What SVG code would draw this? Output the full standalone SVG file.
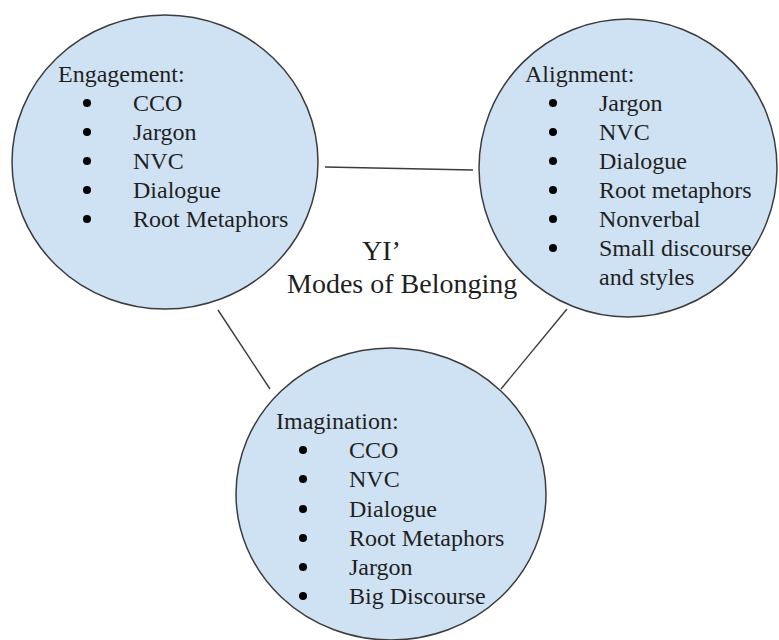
<svg xmlns="http://www.w3.org/2000/svg" width="779" height="640" viewBox="0 0 779 640">
<style>
.node{fill:#cfe2f3;stroke:#3c3c3c;stroke-width:1.5}
.edge{stroke:#3c3c3c;stroke-width:1.4;fill:none}
.t{font-family:"Liberation Serif","Times New Roman",serif;font-size:24px;fill:#1f1f1f}
.c{font-family:"Liberation Serif","Times New Roman",serif;font-size:28px;fill:#1f1f1f}
.b{fill:#000}
</style>
<rect width="779" height="640" fill="#fff"/>
<g id="connectors">
<line class="edge" x1="325" y1="167" x2="473" y2="170"/>
<line class="edge" x1="218" y1="310" x2="270" y2="389"/>
<line class="edge" x1="567" y1="309" x2="501" y2="389"/>
</g>
<g id="engagement">
<ellipse class="node" cx="165" cy="162" rx="153" ry="147"/>
<text class="t" x="58" y="82">Engagement:</text>
<g class="b"><circle cx="87" cy="103" r="4"/><circle cx="87" cy="132" r="4"/><circle cx="87" cy="161" r="4"/><circle cx="87" cy="190" r="4"/><circle cx="87" cy="219" r="4"/></g>
<text class="t" x="133" y="111">CCO</text>
<text class="t" x="133" y="140">Jargon</text>
<text class="t" x="133" y="169">NVC</text>
<text class="t" x="133" y="198">Dialogue</text>
<text class="t" x="133" y="227">Root Metaphors</text>
</g>
<g id="alignment">
<ellipse class="node" cx="628" cy="168" rx="149" ry="149"/>
<text class="t" x="525" y="82">Alignment:</text>
<g class="b"><circle cx="553" cy="103" r="4"/><circle cx="553" cy="132" r="4"/><circle cx="553" cy="161" r="4"/><circle cx="553" cy="190" r="4"/><circle cx="553" cy="219" r="4"/><circle cx="553" cy="248" r="4"/></g>
<text class="t" x="599" y="111">Jargon</text>
<text class="t" x="599" y="140">NVC</text>
<text class="t" x="599" y="169">Dialogue</text>
<text class="t" x="599" y="198">Root metaphors</text>
<text class="t" x="599" y="227">Nonverbal</text>
<text class="t" x="599" y="256">Small discourse</text>
<text class="t" x="599" y="285">and styles</text>
</g>
<g id="imagination">
<ellipse class="node" cx="391" cy="494" rx="155" ry="146"/>
<text class="t" x="276" y="429">Imagination:</text>
<g class="b"><circle cx="303" cy="450" r="4"/><circle cx="303" cy="479" r="4"/><circle cx="303" cy="509" r="4"/><circle cx="303" cy="538" r="4"/><circle cx="303" cy="567" r="4"/><circle cx="303" cy="596" r="4"/></g>
<text class="t" x="349" y="458">CCO</text>
<text class="t" x="349" y="487">NVC</text>
<text class="t" x="349" y="517">Dialogue</text>
<text class="t" x="349" y="546">Root Metaphors</text>
<text class="t" x="349" y="575">Jargon</text>
<text class="t" x="349" y="604">Big Discourse</text>
</g>
<g id="title">
<text class="c" x="362" y="260">YI’</text>
<text class="c" x="287" y="293">Modes of Belonging</text>
</g>
</svg>
